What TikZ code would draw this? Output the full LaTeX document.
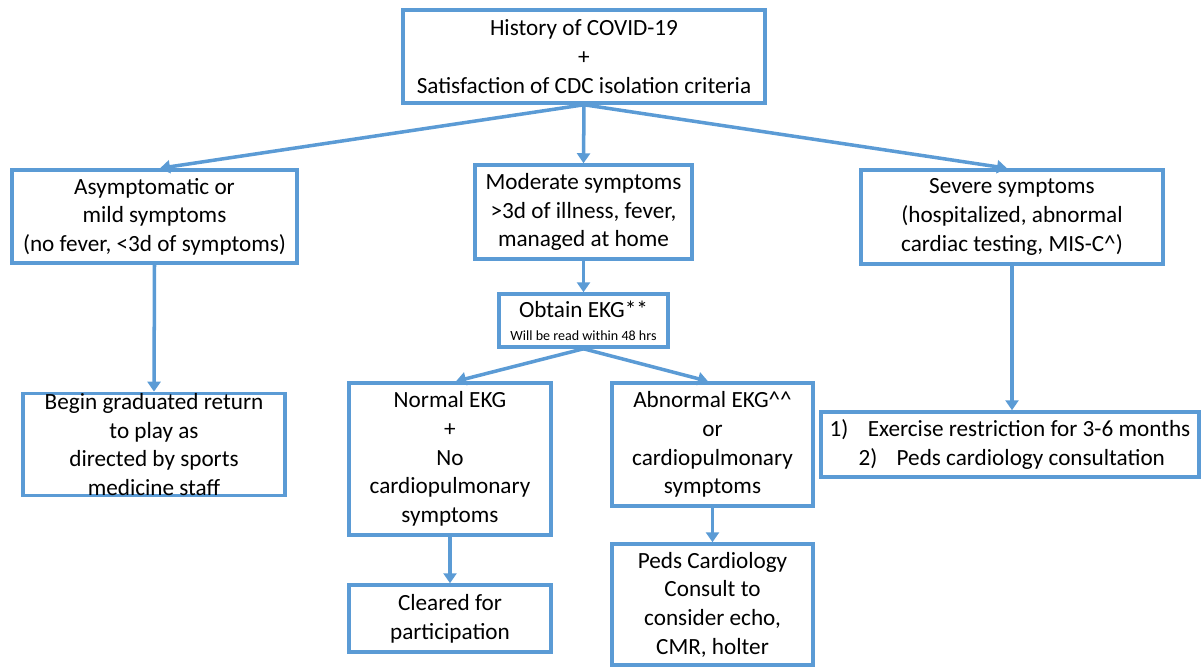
\documentclass[tikz,border=0pt]{standalone}
\usepackage{fontspec}
\setmainfont{Carlito}
\usetikzlibrary{arrows.meta}
\definecolor{bl}{HTML}{5B9BD5}
\tikzset{
  box/.style={draw=bl, line width=2pt, fill=white, align=center, inner sep=0pt,
    font=\fontsize{13.2}{16.3}\selectfont, text=black},
  conn/.style={draw=bl, line width=2pt, -{Triangle[width=0.26cm,length=0.2cm]}}
}
\begin{document}
\begin{tikzpicture}[x=0.02cm,y=-0.02cm]
\useasboundingbox (0,0) rectangle (1201,667);
\node[box, minimum width=7.24cm, minimum height=1.86cm] (top) at (584,56.5)
  {History of COVID-19\\+\\Satisfaction of CDC isolation criteria};
\node[box, minimum width=5.70cm, minimum height=1.86cm] (left) at (154.5,216.5)
  {Asymptomatic or\\mild symptoms\\(no fever, <3d of symptoms)};
\node[box, minimum width=4.34cm, minimum height=1.88cm] (mid) at (583.5,212)
  {Moderate symptoms\\>3d of illness, fever,\\managed at home};
\node[box, minimum width=6.04cm, minimum height=1.88cm] (right) at (1012,217)
  {Severe symptoms\\(hospitalized, abnormal\\cardiac testing, MIS-C\^{})};
\node[box, minimum width=3.38cm, minimum height=1.06cm] (ekg) at (583.5,320.5)
  {Obtain EKG**\\[-3pt]{\fontsize{8}{9}\selectfont Will be read within 48 hrs}};
\node[box, minimum width=5.24cm, minimum height=1.90cm] (begin) at (154,444.5)
  {Begin graduated return\\to play as\\directed by sports\\medicine staff};
\node[box, minimum width=4.04cm, minimum height=3.04cm] (normal) at (450,459)
  {Normal EKG\\+\\No\\cardiopulmonary\\symptoms};
\node[box, minimum width=4.02cm, minimum height=2.46cm] (abn) at (712.5,444.5)
  {Abnormal EKG\^{}\^{}\\or\\cardiopulmonary\\symptoms};
\node[box, minimum width=7.56cm, minimum height=1.30cm] (ex) at (1010,444.5)
  {1)\hspace{11pt}Exercise restriction for 3-6 months\\\hspace{2pt}2)\hspace{11pt}Peds cardiology consultation};
\node[box, minimum width=4.04cm, minimum height=1.34cm] (clear) at (450,618.5)
  {Cleared for\\participation};
\node[box, minimum width=4.02cm, minimum height=2.42cm] (peds) at (712.5,604.5)
  {Peds Cardiology\\Consult to\\consider echo,\\CMR, holter};
\draw[conn] (top.south) -- ([xshift=0.11cm]left.north);
\draw[conn] (top.south) -- (mid.north);
\draw[conn] (top.south) -- ([xshift=-0.10cm]right.north);
\draw[conn] (left.south) -- (begin.north);
\draw[conn] (mid.south) -- (ekg.north);
\draw[conn] (ekg.south) -- ([xshift=0.12cm]normal.north);
\draw[conn] (ekg.south) -- ([xshift=-0.09cm]abn.north);
\draw[conn] (right.south) -- (ex.north -| right.south);
\draw[conn] (normal.south) -- (clear.north);
\draw[conn] (abn.south) -- (peds.north);
\end{tikzpicture}
\end{document}
